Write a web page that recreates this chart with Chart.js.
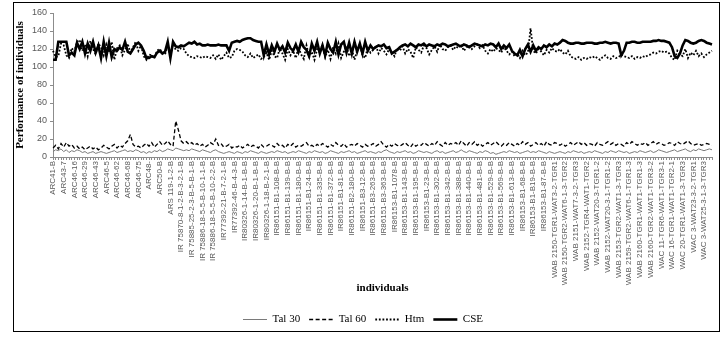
<!DOCTYPE html>
<html>
<head>
<meta charset="utf-8">
<script src="https://cdn.jsdelivr.net/npm/chart.js@4.4.1/dist/chart.umd.min.js"></script>
<style>
  html, body { margin: 0; padding: 0; background: #fff; }
  #wrap { width: 725px; height: 338px; }
</style>
</head>
<body>
<div id="wrap"><canvas id="chart" width="725" height="338"></canvas></div>
<script>
// ---- individuals printed on the x axis (one printed label every 4 lines) ----
const INDIVIDUALS = [
  "ARC41-B", "ARC43-7", "ARC46-16", "ARC46-29", "ARC46-43", "ARC46-5", "ARC46-62",
  "ARC46-68", "ARC46-75", "ARC48-", "ARC50-B", "ARS 119-1-2-B",
  "IR 75870-8-1-2-B-3-2-1-B", "IR 75885-25-2-3-B-5-B-1-B", "IR 75886-18-5-5-B-10-1-1-B",
  "IR 75886-18-5-5-B-10-2-2-B", "IR77392-21-B-7-2-1-B", "IR77392-46-B-4-3-B",
  "IR80326-1-14-B-1-B-B", "IR80326-1-20-B-1-B-B", "IR80326-1-18-B-2-1-B",
  "IR86151-B1-108-B-B", "IR86151-B1-139-B-B", "IR86151-B1-180-B-B", "IR86151-B1-24-B-B",
  "IR86151-B1-335-B-B", "IR86151-B1-372-B-B", "IR86151-B1-81-B-B", "IR86151-B2-180-B-B",
  "IR86151-B3-12-B-B", "IR86151-B3-263-B-B", "IR86151-B3-363-B-B", "IR86153-B1-1078-B",
  "IR86153-B1-143-B-B", "IR86153-B1-195-B-B", "IR86153-B1-23-B-B", "IR86153-B1-302-B-B",
  "IR86153-B1-342-B-B", "IR86153-B1-388-B-B", "IR86153-B1-440-B-B", "IR86153-B1-481-B-B",
  "IR86153-B1-529-B-B", "IR86153-B1-569-B-B", "IR86153-B1-613-B-B", "IR86153-B1-68-B-B",
  "IR86153-B1-B19-B-B", "IR86153-B1-87-B-B",
  "WAB 2150-TGR1-WAT3-2-TGR1", "WAB 2150-TGR2-WAT6-1-3-TGR2", "WAB 2151-WAT7-3-2-TGR3",
  "WAB 2152-TGR4-WAT1-TGR2", "WAB 2152-WAT20-3-TGR1-2", "WAB 2152-WAT20-3-1-TGR1-2",
  "WAB 2153-TGR2-WAT1-3-TGR3", "WAB 2159-TGR2-WAT6-1-TGR1-3", "WAB 2160-TGR1-WAT1-TGR1-3",
  "WAB 2160-TGR2-WAT1-TGR3-2", "WAC 11-TGR6-WAT1-TGR3-1", "WAC 16-TGR1-WAT1-TGR2-1",
  "WAC 20-TGR1-WAT1-3-TGR3", "WAC 3-WAT23-3-2-TGR1", "WAC 3-WAT25-3-1-3-TGR3"
];
const LABEL_EVERY = 4;

// ---- series values ----
const tal30 = [
  6,8,7,9,6,8,5,7,6,8, 7,5,6,4,5,6,4,5,6,5, 4,5,6,7,5,6,7,8,6,7, 6,8,7,5,6,4,6,5,7,6,
  8,6,7,9,8,7,10,9,8,7, 8,7,9,8,7,6,8,7,6,5, 7,8,6,5,4,5,6,5,4,6, 5,4,6,5,7,6,5,4,6,5,
  4,5,6,5,7,6,5,6,4,5, 6,5,7,6,5,4,6,5,7,6, 5,6,4,5,7,6,5,4,6,5, 6,7,5,6,4,5,6,7,5,6,
  5,4,6,5,7,8,6,5,4,6, 5,6,7,5,6,4,5,7,6,5, 6,5,4,6,7,5,6,4,5,6, 7,5,6,8,6,5,7,6,5,4,
  6,5,7,6,4,5,3,4,5,6, 5,7,6,5,6,4,5,6,7,5, 6,5,7,6,5,4,6,5,4,5, 6,5,4,6,5,7,6,5,6,4,
  5,6,5,7,6,5,4,6,5,7, 6,5,7,6,5,6,4,5,6,5, 7,6,5,6,7,5,6,8,7,6, 5,6,7,8,6,7,8,9,7,6,
  8,7,9,8,7,8,9,8
];
const tal60 = [
  10,13,9,15,11,16,12,14,10,12, 9,11,8,10,12,9,11,8,10,13, 11,9,12,14,10,13,11,15,18,25,
  14,11,12,10,13,15,12,16,11,14, 17,13,15,18,14,12,40,30,18,15, 17,14,16,13,15,12,14,11,13,16,
  14,20,13,15,11,12,14,10,12,11, 13,10,12,14,11,13,12,10,14,11, 12,14,13,11,15,12,13,10,14,12,
  15,11,13,12,14,16,12,13,11,14, 12,15,13,11,14,12,16,13,12,15, 11,13,14,12,15,13,11,14,12,13,
  15,12,14,17,13,11,14,12,15,13, 12,14,16,13,11,15,12,14,13,16, 14,12,15,13,17,14,12,16,13,15,
  14,16,13,18,15,12,16,14,17,13, 15,12,14,16,13,15,17,14,12,15, 13,16,14,12,15,13,17,14,16,12,
  14,16,13,15,12,17,14,13,16,15, 13,15,12,14,16,13,15,17,14,16, 13,15,14,12,16,14,13,15,17,14,
  16,13,15,14,12,16,14,17,15,13, 15,14,16,13,15,17,14,16,15,13, 14,16,15,13,17,15,14,16,18,15,
  13,14,15,13,14,15,14,13
];
const htm = [
  118,111,112,126,124,113,110,121,117,128, 130,118,125,112,129,120,114,126,122,113,
  125,116,128,108,121,124,113,119,126,116, 122,128,118,124,112,108,114,113,110,118,
  120,116,114,124,112,127,119,118,121,120, 115,112,111,110,112,111,110,112,111,110,
  113,109,114,108,112,116,110,111,118,120, 119,117,113,111,115,110,112,114,109,111,
  116,108,118,112,110,121,115,108,120,113, 118,110,122,114,109,124,112,117,108,120,
  116,125,111,119,109,122,115,126,110,117, 123,112,120,108,118,125,113,110,122,116,
  119,124,115,121,118,114,120,116,112,121, 118,123,115,120,117,110,122,119,116,124,
  121,114,119,123,117,125,120,118,122,124, 119,123,121,125,118,122,124,120,123,125,
  121,124,118,115,120,117,121,119,116,122, 118,114,117,112,115,110,118,113,116,143,
  118,115,120,117,113,119,116,121,118,117, 120,116,114,118,112,110,109,111,108,110,
  109,111,110,112,110,108,111,113,110,109, 112,110,111,114,112,111,110,112,109,111,
  110,112,111,113,114,116,115,117,118,116, 117,115,110,108,118,114,112,120,110,116,
  113,118,112,115,111,114,116,118
];
const cse = [
  108,108,128,128,128,128,113,116,113,127, 120,128,115,126,118,128,116,124,110,128,
  112,127,111,120,118,122,119,128,117,115, 120,125,127,124,118,110,110,112,111,116,
  118,115,117,128,110,128,123,122,124,123, 125,127,126,128,125,126,124,124,125,124,
  124,124,125,124,124,124,118,127,128,129, 128,130,131,132,132,130,129,128,128,113,
  125,114,124,117,126,119,123,116,127,121, 118,125,117,128,122,119,112,126,118,128,
  115,124,113,127,120,116,128,114,125,128, 116,127,115,128,117,126,115,128,118,124,
  120,122,124,123,125,121,122,115,117,119, 122,124,125,123,126,124,122,125,124,126,
  123,125,124,123,125,124,126,125,123,124, 125,126,124,123,125,124,122,124,126,125,
  124,123,125,124,126,125,122,126,120,124, 121,125,118,115,113,119,112,120,125,117,
  124,118,122,120,124,122,125,123,126,125, 127,130,129,127,126,126,127,127,126,126,
  127,127,127,126,126,127,127,128,127,126, 127,127,126,113,118,127,127,128,128,127,
  127,128,128,128,128,129,129,130,129,129, 128,127,122,112,110,115,124,130,129,127,
  126,127,129,130,129,127,126,125
];

const Y_MIN = 0, Y_MAX = 160, Y_STEP = 20;

// one category per line, only every 4th one carries a printed name
const labels = [];
INDIVIDUALS.forEach((name) => {
  labels.push(name);
  for (let k = 1; k < LABEL_EVERY; k++) labels.push("");
});

const AXIS_GREY = "#8c8c8c";
const TEXT_GREY = "#595959";
const SERIF = "'Liberation Serif', 'Times New Roman', serif";
const SANS  = "'Liberation Sans', Arial, sans-serif";

// frame around the whole figure
const framePlugin = {
  id: "frame",
  afterDraw(chart) {
    const ctx = chart.ctx;
    ctx.save();
    ctx.strokeStyle = "#000";
    ctx.lineWidth = 1;
    ctx.strokeRect(13.5, 2.5, 706, 329);
    ctx.restore();
  },
};

// legend samples take the dash and width of their own line
function legendItems(chart) {
  return chart.data.datasets.map((ds, i) => ({
    text: ds.label,
    datasetIndex: i,
    strokeStyle: ds.borderColor,
    fillStyle: ds.borderColor,
    lineWidth: ds.borderWidth,
    lineDash: ds.borderDash || [],
    lineCap: "butt",
    pointStyle: "line",
    hidden: false,
    fontColor: "#000",
  }));
}

new Chart(document.getElementById("chart").getContext("2d"), {
  type: "line",
  data: {
    labels,
    datasets: [
      { label: "Tal 30", data: tal30, borderColor: "#7a7a7a", borderWidth: 1 },
      { label: "Tal 60", data: tal60, borderColor: "#000", borderWidth: 1.3, borderDash: [4, 2.5] },
      { label: "Htm",    data: htm,   borderColor: "#000", borderWidth: 1.8, borderDash: [1.8, 1.8] },
      { label: "CSE",    data: cse,   borderColor: "#000", borderWidth: 2.6 },
    ],
  },
  options: {
    responsive: false,
    animation: false,
    devicePixelRatio: 1,
    elements: { point: { radius: 0 }, line: { tension: 0, fill: false } },
    layout: { padding: { left: 14, right: 13, top: 13, bottom: 3 } },
    plugins: {
      tooltip: { enabled: false },
      legend: {
        position: "bottom",
        labels: {
          usePointStyle: true,
          pointStyle: "line",
          pointStyleWidth: 24,
          color: "#000",
          font: { family: SERIF, size: 11 },
          padding: 9,
          generateLabels: legendItems,
        },
      },
    },
    scales: {
      x: {
        type: "category",
        ticks: {
          autoSkip: false,
          maxRotation: 90,
          minRotation: 90,
          color: TEXT_GREY,
          font: { family: SANS, size: 8 },
          padding: 1,
        },
        grid: { drawOnChartArea: false, drawTicks: true, tickLength: 3, color: AXIS_GREY },
        border: { color: AXIS_GREY },
        title: {
          display: true,
          text: "individuals",
          color: "#000",
          font: { family: SERIF, size: 11, weight: "bold" },
          padding: { top: 0, bottom: 10 },
        },
        afterFit: (s) => { s.height = 148; },
      },
      y: {
        min: Y_MIN,
        max: Y_MAX,
        ticks: { stepSize: Y_STEP, color: TEXT_GREY, font: { family: SANS, size: 9 }, padding: 3 },
        grid: { drawOnChartArea: false, drawTicks: true, tickLength: 3, color: AXIS_GREY },
        border: { color: AXIS_GREY },
        title: {
          display: true,
          text: "Performance of individuals",
          color: "#000",
          font: { family: SERIF, size: 11, weight: "bold" },
          padding: 0,
        },
        afterFit: (s) => { s.width = 39; },
      },
    },
  },
  plugins: [framePlugin],
});
</script>
</body>
</html>
